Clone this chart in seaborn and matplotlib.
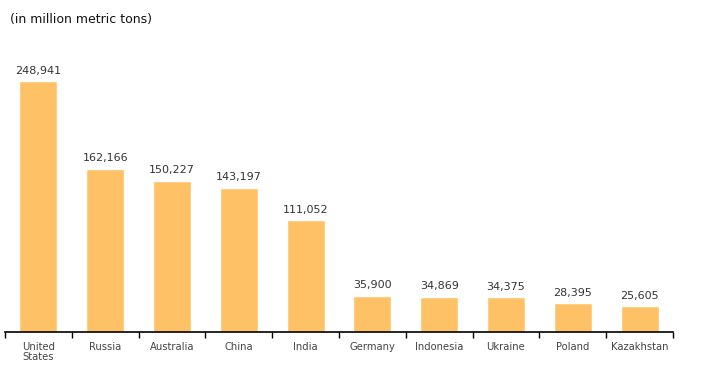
import numpy as np
import pandas as pd
import seaborn as sns
import matplotlib
matplotlib.use("Agg")
import matplotlib.pyplot as plt

# data
countries = ["United\nStates", "Russia", "Australia", "China", "India",
             "Germany", "Indonesia", "Ukraine", "Poland", "Kazakhstan"]
reserves = [248941, 162166, 150227, 143197, 111052,
            35900, 34869, 34375, 28395, 25605]

df = pd.DataFrame({"country": countries, "reserves": reserves})

sns.set_style("white")
plt.rcParams["font.family"] = ["DejaVu Sans"]

fig = plt.figure(figsize=(7.04, 3.75), dpi=100)
ax = fig.add_axes([5/704, 43/375, 668/704, 290/375])

sns.barplot(data=df, x="country", y="reserves", color="#FFC166",
            saturation=1, width=0.57, ax=ax)

ax.set_ylim(0, 288000)
ax.set_xlim(-0.5, len(countries) - 0.5)

# value labels
for p, v in zip(ax.patches, reserves):
    ax.annotate("{:,}".format(v), (p.get_x() + p.get_width() / 2, p.get_height()),
                xytext=(0, 4), textcoords="offset points",
                ha="center", va="bottom", fontsize=8, color="#333333")

for s in ["top", "right", "left"]:
    ax.spines[s].set_visible(False)
ax.spines["bottom"].set_color("black")
ax.spines["bottom"].set_linewidth(1.2)

ax.set_yticks([])
ax.set_xlabel("")
ax.set_ylabel("")
ax.tick_params(axis="x", which="major", bottom=False, length=0, labelsize=7.2,
               labelcolor="#444444", pad=7)
ax.set_xticks(np.arange(-0.5, len(countries)), minor=True)
ax.tick_params(axis="x", which="minor", bottom=True, length=4, width=1,
               color="black", direction="out")
for lbl in ax.get_xticklabels():
    lbl.set_verticalalignment("top")
    lbl.set_linespacing(1.0)

fig.text(10/704, 1 - 20/375, "(in million metric tons)", fontsize=9,
         color="#111111", va="center", ha="left")

fig.savefig("out.png", dpi=100)
